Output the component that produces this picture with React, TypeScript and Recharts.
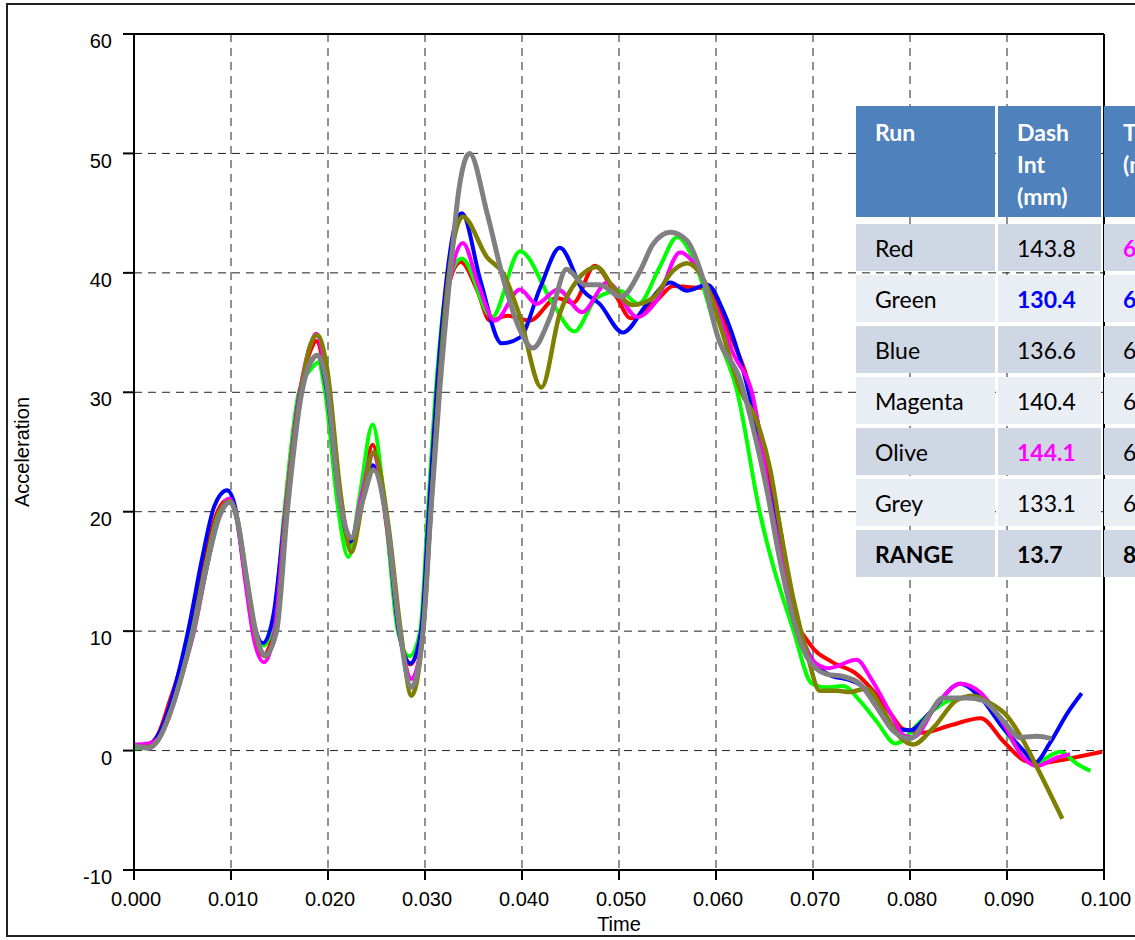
import React from "react";
import { LineChart, Line, XAxis, YAxis, CartesianGrid } from "recharts";

// [time (s), acceleration]
const redRun = [
  [0, 0.3], [0.0015, 0.5], [0.0025, 1.4], [0.0037, 4.2], [0.0048, 7.0], [0.0058, 10], [0.0072, 15.5],
  [0.0086, 20], [0.0097, 21.0], [0.0105, 19.8], [0.0115, 14.5], [0.0124, 9.8], [0.0133, 8.0],
  [0.0145, 10.5], [0.0156, 20], [0.0171, 30], [0.0182, 33.5], [0.0188, 34.3], [0.0197, 31.5],
  [0.0211, 21.5], [0.0223, 17.2], [0.0235, 21.5], [0.0246, 25.6], [0.026, 19], [0.0273, 10],
  [0.0285, 7.2], [0.0296, 10], [0.0304, 20], [0.0312, 30], [0.0323, 38.5], [0.0337, 40.9],
  [0.0354, 38.5], [0.0367, 36.0], [0.0385, 36.4], [0.0408, 36.0], [0.0436, 37.9], [0.0453, 37.5],
  [0.0475, 40.6], [0.0498, 37.9], [0.0512, 36.2], [0.0539, 37.7], [0.0556, 38.9], [0.0573, 38.8],
  [0.0591, 38.7], [0.0602, 37.5], [0.0611, 35.5], [0.0632, 31.2], [0.0648, 25.7], [0.0666, 18.7],
  [0.068, 11.7], [0.0697, 8.9], [0.072, 7.4], [0.0745, 6.4], [0.0762, 5.0], [0.078, 3.1],
  [0.0793, 1.8], [0.0813, 1.5], [0.0841, 2.1], [0.0873, 2.7], [0.0896, 0.8], [0.0917, -0.8],
  [0.0931, -1.1], [0.0962, -0.7], [0.0998, -0.1],
];

const greenRun = [
  [0, 0.2], [0.0015, 0.3], [0.0025, 1.1], [0.0037, 3.6], [0.0049, 6.8], [0.006, 10], [0.0074, 15.5],
  [0.0087, 19.8], [0.0098, 20.9], [0.0105, 19.7], [0.0115, 14.5], [0.0125, 9.8], [0.0134, 8.8],
  [0.0145, 11.5], [0.0155, 20], [0.017, 30], [0.0183, 32.0], [0.019, 32.5], [0.0197, 30],
  [0.021, 20.5], [0.0221, 16.2], [0.0233, 21.5], [0.0246, 27.3], [0.0258, 21], [0.0272, 10],
  [0.0284, 7.9], [0.0295, 10], [0.0303, 20], [0.0311, 30], [0.0322, 38.5], [0.0338, 41.2],
  [0.0369, 36.3], [0.0398, 41.8], [0.0432, 37.4], [0.0454, 35.1], [0.0477, 37.9], [0.0501, 38.5],
  [0.052, 37.4], [0.0542, 40.5], [0.056, 43.0], [0.058, 40.5], [0.0601, 34.9], [0.0622, 30],
  [0.0645, 20], [0.068, 10], [0.0699, 5.6], [0.0714, 5.3], [0.0731, 5.4], [0.0748, 4.2],
  [0.0766, 2.4], [0.0785, 0.6], [0.0813, 2.6], [0.0841, 4.2], [0.0869, 4.5], [0.0896, 1.9],
  [0.0927, -1.1], [0.0955, -0.1], [0.0972, -1.1], [0.0986, -1.7],
];

const blueRun = [
  [0, 0.4], [0.0015, 0.5], [0.0025, 1.3], [0.0037, 3.8], [0.0048, 7.2], [0.0057, 10.5], [0.007, 16],
  [0.0083, 20.5], [0.0096, 21.8], [0.0104, 20.5], [0.0114, 15], [0.0124, 10.5], [0.0133, 9.0],
  [0.0144, 11.5], [0.0156, 20], [0.0171, 30], [0.0183, 32.6], [0.0189, 33.1], [0.0198, 30.5],
  [0.0211, 21.5], [0.0223, 17.5], [0.0235, 20.8], [0.0246, 23.9], [0.026, 19.5], [0.0273, 10],
  [0.0285, 7.3], [0.0296, 10], [0.0304, 20], [0.0312, 30], [0.0323, 40], [0.0331, 44],
  [0.0338, 45.0], [0.0357, 39.4], [0.0379, 34.1], [0.0398, 34.6], [0.0419, 38.8], [0.0439, 42.1],
  [0.0463, 38.5], [0.048, 37.4], [0.0504, 35.0], [0.0529, 37.4], [0.0553, 39.2], [0.057, 38.5],
  [0.0591, 39.0], [0.0607, 36.9], [0.0625, 32.7], [0.0638, 28.5], [0.0652, 22.9], [0.0666, 17.3],
  [0.068, 11.7], [0.0694, 8.4], [0.0718, 6.3], [0.0738, 5.9], [0.0752, 5.3], [0.0769, 3.4],
  [0.0787, 1.8], [0.08, 1.7], [0.0821, 3.2], [0.0852, 5.6], [0.0872, 4.5], [0.0896, 1.9],
  [0.0917, 0], [0.0929, -1.0], [0.0944, 0.6], [0.0962, 3.1], [0.0977, 4.8],
];

const magentaRun = [
  [0, 0.5], [0.0015, 0.6], [0.0025, 1.0], [0.0037, 3.0], [0.005, 6.5], [0.0062, 10], [0.0075, 15.3],
  [0.0088, 19.8], [0.0098, 21.1], [0.0105, 19.8], [0.0115, 14], [0.0124, 9.2], [0.0134, 7.4],
  [0.0145, 10], [0.0156, 20], [0.0171, 30], [0.0182, 34], [0.0188, 34.9], [0.0197, 32],
  [0.0211, 22], [0.0224, 17.8], [0.0235, 21.5], [0.0246, 24.9], [0.026, 19.5], [0.0274, 10],
  [0.0286, 6.0], [0.0298, 10], [0.0306, 20], [0.0314, 30], [0.0325, 39], [0.0339, 42.5],
  [0.0355, 39], [0.0372, 36.0], [0.0398, 38.6], [0.0415, 37.4], [0.0437, 38.6], [0.0462, 36.7],
  [0.0488, 39.2], [0.0519, 36.3], [0.0539, 37.7], [0.0563, 41.7], [0.058, 40.5], [0.0601, 36.9],
  [0.0618, 33.2], [0.0637, 30], [0.0658, 20], [0.0687, 10], [0.07, 7.5], [0.0716, 6.9],
  [0.0745, 7.6], [0.076, 6.0], [0.078, 3.1], [0.0793, 1.3], [0.0803, 1.1], [0.0828, 3.9],
  [0.0852, 5.6], [0.0872, 4.9], [0.0896, 2.3], [0.0917, -0.6], [0.0931, -1.3], [0.0951, -0.6],
  [0.0965, -0.3],
];

const oliveRun = [
  [0, 0.3], [0.0015, 0.3], [0.0025, 0.9], [0.0037, 3.1], [0.005, 6.5], [0.0061, 10], [0.0075, 15.5],
  [0.0088, 19.8], [0.0099, 20.9], [0.0106, 19.6], [0.0116, 14.5], [0.0126, 9.5], [0.0135, 7.9],
  [0.0147, 10.2], [0.0157, 20], [0.0172, 30], [0.0182, 34], [0.0189, 34.8], [0.0199, 32],
  [0.0213, 21.5], [0.0224, 16.6], [0.0236, 21], [0.0247, 25.0], [0.0262, 19], [0.0275, 10],
  [0.0286, 4.6], [0.0298, 10], [0.0306, 20], [0.0314, 30], [0.0324, 39.5], [0.0339, 44.7],
  [0.0364, 41.3], [0.0381, 39.9], [0.0398, 36.3], [0.042, 30.4], [0.0439, 36.6], [0.0457, 39.4],
  [0.0477, 40.5], [0.0494, 38.8], [0.0514, 37.3], [0.0535, 37.9], [0.0556, 40.2], [0.057, 40.8],
  [0.0591, 38.8], [0.0607, 34.9], [0.0625, 30.2], [0.0642, 27.6], [0.0656, 23.5], [0.0666, 18.7],
  [0.068, 12.6], [0.0694, 8.1], [0.0707, 5.0], [0.0725, 5.0], [0.0738, 4.9], [0.0755, 5.2],
  [0.0772, 3.4], [0.079, 1.1], [0.0803, 0.5], [0.0824, 1.9], [0.0848, 4.2], [0.0865, 4.6],
  [0.0882, 4.0], [0.09, 2.9], [0.0917, 0.8], [0.0934, -1.9], [0.0957, -5.7],
];

const greyRun = [
  [0, 0.4], [0.0015, 0.2], [0.0025, 0.9], [0.0037, 3.1], [0.005, 6.5], [0.0061, 10], [0.0075, 15.5],
  [0.0088, 19.6], [0.0099, 20.8], [0.0106, 19.5], [0.0116, 14.5], [0.0126, 9.8], [0.0135, 8.0],
  [0.0147, 10], [0.0158, 20], [0.0173, 30], [0.0182, 32.5], [0.0189, 33.1], [0.0198, 31],
  [0.0212, 21], [0.0224, 17.8], [0.0236, 21], [0.0247, 23.5], [0.0261, 19], [0.0274, 10],
  [0.0286, 5.3], [0.0298, 10], [0.0306, 20], [0.0315, 30], [0.0326, 40], [0.0335, 47],
  [0.0346, 50.0], [0.0364, 45.0], [0.0381, 39.4], [0.0398, 35.2], [0.0411, 33.7], [0.0429, 36.3],
  [0.0446, 40.3], [0.0465, 39.0], [0.048, 39.0], [0.0502, 38.0], [0.0522, 40.2], [0.0535, 42.4],
  [0.0553, 43.4], [0.057, 42.7], [0.0587, 39.4], [0.0602, 34.6], [0.0625, 31], [0.0638, 27.1],
  [0.0652, 22.0], [0.0666, 15.9], [0.068, 10.9], [0.0694, 7.8], [0.0714, 6.4], [0.0731, 6.2],
  [0.0748, 5.6], [0.0766, 3.6], [0.0782, 1.7], [0.08, 1.0], [0.0818, 2.8], [0.0834, 4.4],
  [0.0859, 4.4], [0.0875, 4.2], [0.0896, 2.5], [0.0913, 1.1], [0.0931, 1.2], [0.0946, 1.0],
];

const xTicks = [0, 0.01, 0.02, 0.03, 0.04, 0.05, 0.06, 0.07, 0.08, 0.09, 0.1];
const yTicks = [-10, 0, 10, 20, 30, 40, 50, 60];

// overlay table
const runNames = ["Red", "Green", "Blue", "Magenta", "Olive", "Grey", "RANGE"];
const dashInt = ["143.8", "130.4", "136.6", "140.4", "144.1", "133.1", "13.7"];
const dashColor = ["#000", "#0000ff", "#000", "#000", "#ff00ff", "#000", "#000"];
const timeMs = ["68.6", "60.4", "63.2", "64.9", "65.5", "62.7", "8.2"];
const timeColor = ["#ff00ff", "#0000ff", "#000", "#000", "#000", "#000", "#000"];
const boldDash = [false, true, false, false, true, false, true];
const boldTime = [true, true, false, false, false, false, true];

const series = [
  { name: "Red", pts: redRun, color: "#ff0000", w: 4 },
  { name: "Green", pts: greenRun, color: "#00ff00", w: 4 },
  { name: "Blue", pts: blueRun, color: "#0000ff", w: 4 },
  { name: "Magenta", pts: magentaRun, color: "#ff00ff", w: 4 },
  { name: "Olive", pts: oliveRun, color: "#808000", w: 4.5 },
  { name: "Grey", pts: greyRun, color: "#808080", w: 5 },
];

const FONT = "'Liberation Sans', Arial, sans-serif";
const TABLE_FONT = "Lato, 'Open Sans', sans-serif";

const YTick = ({ x, y, payload }: any) => (
  <text x={x} y={y + 7} dy="0.355em" textAnchor="end" fontSize={20} fontFamily={FONT} fill="#000">
    {payload.value}
  </text>
);

const XTick = ({ x, y, payload }: any) => (
  <text x={x + 2} y={y + 26} textAnchor="middle" fontSize={20} fontFamily={FONT} fill="#000">
    {Number(payload.value).toFixed(3)}
  </text>
);

const NoTick = () => <g />;

const cellBase: React.CSSProperties = {
  position: "absolute",
  boxSizing: "border-box",
  paddingLeft: 19,
  fontFamily: TABLE_FONT,
  fontSize: 23,
  overflow: "hidden",
  whiteSpace: "nowrap",
};

const colLeft = [856, 998, 1104];
const colWidth = [139, 103, 120];

function Table() {
  const header = [["Run"], ["Dash", "Int", "(mm)"], ["Time", "(ms)"]];
  return (
    <>
      {header.map((lines, c) => (
        <div
          key={"h" + c}
          style={{
            ...cellBase,
            left: colLeft[c],
            top: 106,
            width: colWidth[c],
            height: 111,
            background: "#4f81bd",
            color: "#fff",
            fontWeight: 700,
            lineHeight: "32px",
            paddingTop: 10,
          }}
        >
          {lines.map((l) => (
            <div key={l}>{l}</div>
          ))}
        </div>
      ))}
      {runNames.map((run, i) => {
        const top = 224 + i * 51;
        const bg = i % 2 === 0 ? "#cfd7e5" : "#e9edf4";
        const cells = [
          { text: run, color: "#000", bold: run === "RANGE" },
          { text: dashInt[i], color: dashColor[i], bold: boldDash[i] },
          { text: timeMs[i], color: timeColor[i], bold: boldTime[i] },
        ];
        return cells.map((cell, c) => (
          <div
            key={run + c}
            style={{
              ...cellBase,
              left: colLeft[c],
              top,
              width: colWidth[c],
              height: 47,
              background: bg,
              color: cell.color,
              fontWeight: cell.bold ? 700 : 400,
              display: "flex",
              alignItems: "center",
            }}
          >
            {cell.text}
          </div>
        ));
      })}
    </>
  );
}

export default function App() {
  return (
    <div
      style={{
        position: "absolute",
        left: 0,
        top: 0,
        width: 1135,
        height: 940,
        overflow: "hidden",
        background: "#fff",
      }}
    >
      <div
        style={{
          position: "absolute",
          left: 6,
          top: 3,
          width: 1200,
          height: 934,
          border: "2px solid #222",
          boxSizing: "border-box",
        }}
      />
      <div style={{ position: "absolute", left: 0, top: 0 }}>
        <LineChart width={1135} height={940} margin={{ top: 24, right: 0, bottom: 0, left: 0 }}>
          <CartesianGrid stroke="#222" strokeDasharray="8 6" strokeWidth={1} />
          <XAxis
            dataKey="t"
            type="number"
            domain={[0, 0.1]}
            ticks={xTicks}
            height={70}
            tickSize={10}
            tickMargin={0}
            tick={<XTick />}
            axisLine={{ stroke: "#000", strokeWidth: 2 }}
            tickLine={{ stroke: "#000", strokeWidth: 2 }}
            label={{
              value: "Time",
              position: "insideBottom",
              offset: 9,
              style: { fontSize: 20, fontFamily: FONT, fill: "#000" },
            }}
          />
          <XAxis
            xAxisId="top"
            orientation="top"
            dataKey="t"
            type="number"
            domain={[0, 0.1]}
            ticks={xTicks}
            height={10}
            tickSize={10}
            tick={NoTick}
            axisLine={{ stroke: "#000", strokeWidth: 2 }}
            tickLine={{ stroke: "#000", strokeWidth: 2 }}
          />
          <YAxis
            type="number"
            domain={[-10, 60]}
            ticks={yTicks}
            width={134}
            tickSize={11}
            tickMargin={11}
            tick={<YTick />}
            axisLine={{ stroke: "#000", strokeWidth: 2 }}
            tickLine={{ stroke: "#000", strokeWidth: 2 }}
            label={{
              value: "Acceleration",
              angle: -90,
              position: "insideLeft",
              offset: 22,
              style: { textAnchor: "middle", fontSize: 20, fontFamily: FONT, fill: "#000" },
            }}
          />
          <YAxis
            yAxisId="right"
            orientation="right"
            type="number"
            domain={[-10, 60]}
            ticks={yTicks}
            width={31}
            tickSize={10}
            tick={NoTick}
            axisLine={{ stroke: "#000", strokeWidth: 2 }}
            tickLine={{ stroke: "#000", strokeWidth: 2 }}
          />
          {series.map((s) => (
            <Line
              key={s.name}
              name={s.name}
              data={s.pts.map(([t, v]) => ({ t, v }))}
              dataKey="v"
              type="monotone"
              stroke={s.color}
              strokeWidth={s.w}
              dot={false}
              activeDot={false}
              isAnimationActive={false}
            />
          ))}
        </LineChart>
      </div>
      <Table />
    </div>
  );
}
